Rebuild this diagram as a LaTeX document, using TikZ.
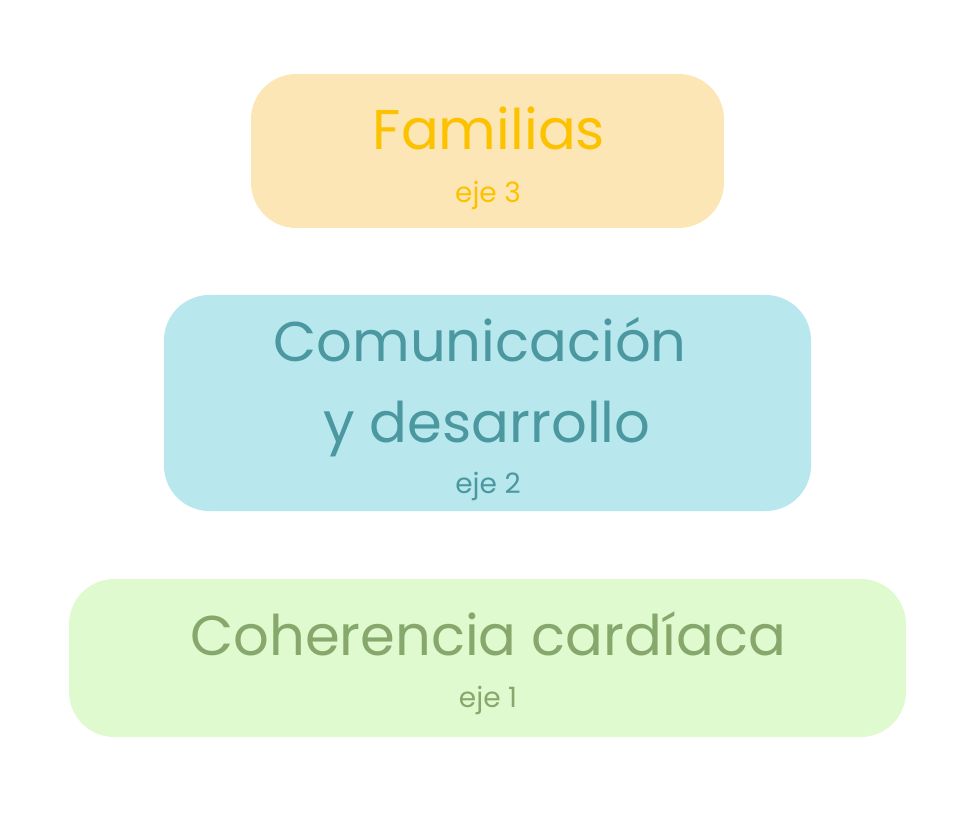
\documentclass[tikz,border=0pt]{standalone}
\usepackage{fontspec}
\setmainfont{Poppins}
\definecolor{famfill}{HTML}{FDE6B6}
\definecolor{famtext}{HTML}{FCC200}
\definecolor{comfill}{HTML}{B8E8EE}
\definecolor{comtext}{HTML}{4B98A0}
\definecolor{cohfill}{HTML}{DFFACE}
\definecolor{cohtext}{HTML}{86A86C}
\begin{document}
\begin{tikzpicture}[x=0.75pt, y=-0.75pt,
    eje/.style={rounded corners=34pt, draw=none, inner sep=0pt},
    titulo/.style={anchor=base, inner sep=0pt, font=\fontsize{42}{50}\selectfont},
    sub/.style={anchor=base, inner sep=0pt, font=\fontsize{21}{25}\selectfont}]
    \useasboundingbox (0,0) rectangle (960,816);
    % Eje 3
    \node (fam) [eje, fill=famfill, minimum width=354.75pt, minimum height=115.5pt] at (487.5,151) {};
    \node (famt) [titulo, text=famtext] at (489,150) {Familias};
    \node (fams) [sub, text=famtext] at (488,203) {eje 3};

    % Eje 2
    \node (com) [eje, fill=comfill, minimum width=485.25pt, minimum height=162pt] at (487.5,403) {};
    \node (comt) [titulo, text=comtext] at (480,362) {Comunicación};
    \node (comu) [titulo, text=comtext] at (487,442) {y desarrollo};
    \node (coms) [sub, text=comtext] at (488,493) {eje 2};

    % Eje 1
    \node (coh) [eje, fill=cohfill, minimum width=627.75pt, minimum height=118.5pt] at (487.5,658) {};
    \node (coht) [titulo, text=cohtext] at (488,655) {Coherencia cardíaca};
    \node (cohs) [sub, text=cohtext] at (488,707) {eje 1};
\end{tikzpicture}
\end{document}
